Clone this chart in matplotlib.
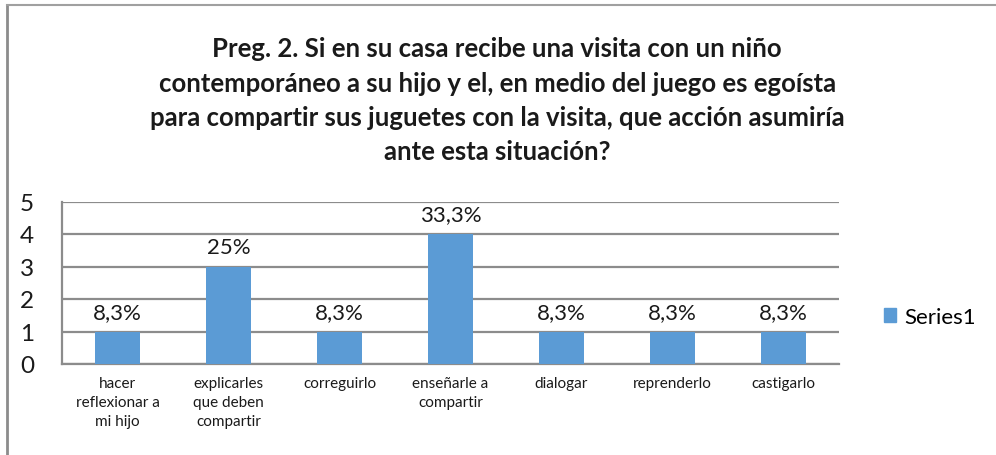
import matplotlib
matplotlib.use("Agg")
import matplotlib.pyplot as plt
from matplotlib.patches import Patch
from matplotlib.lines import Line2D

plt.rcParams['font.family'] = ['Lato', 'DejaVu Sans']

categories = ["hacer\nreflexionar a\nmi hijo", "explicarles\nque deben\ncompartir",
              "correguirlo", "enseñarle a\ncompartir", "dialogar",
              "reprenderlo", "castigarlo"]
values = [1, 3, 1, 4, 1, 1, 1]
pct_labels = ["8,3%", "25%", "8,3%", "33,3%", "8,3%", "8,3%", "8,3%"]
series_name = "Series1"
title = ("Preg. 2. Si en su casa recibe una visita con un niño\n"
         "contemporáneo a su hijo y el, en medio del juego es egoísta\n"
         "para compartir sus juguetes con la visita, que acción asumiría\n"
         "ante esta situación?")

bar_color = "#5b9bd5"
grid_color = "#8c8c8c"

fig = plt.figure(figsize=(9.96, 4.56), dpi=100)
ax = fig.add_axes([62 / 996, 1 - 365 / 456, 777 / 996, 162.5 / 456])

x = range(len(values))
ax.bar(x, values, width=0.41, color=bar_color, zorder=3)
for xi, v, lab in zip(x, values, pct_labels):
    ax.text(xi, v + 0.3, lab, ha="center", va="bottom", fontsize=16, color="#1a1a1a")

ax.set_xlim(-0.5, len(values) - 0.5)
ax.set_ylim(0, 5)
ax.set_yticks(range(6))
ax.yaxis.grid(True, color=grid_color, linewidth=1.6, zorder=0)
ax.tick_params(axis="y", length=0, labelsize=17.5, pad=20, labelcolor="#1a1a1a")
ax.tick_params(axis="x", length=0, labelsize=11, pad=9, labelcolor="#1a1a1a")
ax.set_xticks(list(x))
ax.set_xticklabels(categories, linespacing=1.45)
for s in ["top", "right"]:
    ax.spines[s].set_visible(False)
ax.spines["left"].set_color(grid_color)
ax.spines["left"].set_linewidth(1.6)
ax.spines["bottom"].set_color(grid_color)
ax.spines["bottom"].set_linewidth(1.6)

fig.text(0.5 * (62 + 839) / 996 + 0.047, 1 - 164 / 456, title, ha="center", va="bottom",
         fontsize=18.5, fontweight="bold", linespacing=1.51, color="#1a1a1a")

leg = fig.legend(handles=[Patch(color=bar_color, label=series_name)],
                 loc="center left", bbox_to_anchor=(864 / 996, 1 - 318 / 456),
                 frameon=False, fontsize=16, handlelength=0.55, handleheight=0.55,
                 handletextpad=0.35)

# chart frame (left and top edges visible)
fig.add_artist(Line2D([7 / 996, 7 / 996], [0, 1 - 6 / 456], transform=fig.transFigure,
                      color="#8c8c8c", linewidth=2))
fig.add_artist(Line2D([7 / 996, 1], [1 - 6 / 456, 1 - 6 / 456], transform=fig.transFigure,
                      color="#a0a0a0", linewidth=1.5))

fig.savefig("out.png", dpi=100)
